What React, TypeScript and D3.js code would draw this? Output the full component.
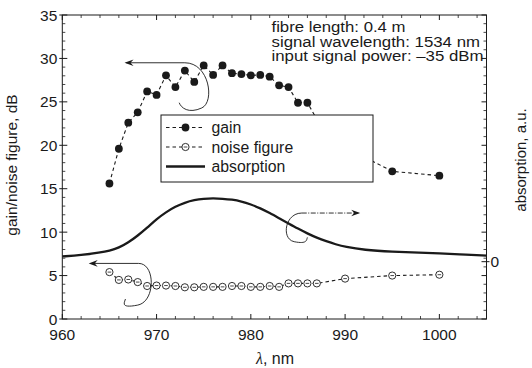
import React from "react";
import * as d3 from "d3";

const W = 532;
const H = 368;

const gainNm = [965, 966, 967, 968, 969, 970, 971, 972, 973, 974, 975, 976, 977, 978, 979, 980, 981, 982, 983, 984, 985, 986, 987, 990, 995, 1000];
const gainDb = [15.6, 19.6, 22.6, 23.8, 26.2, 25.8, 28.05, 26.7, 28.6, 27.3, 29.2, 28.1, 29.2, 28.3, 28.2, 28.05, 28.1, 27.9, 26.9, 26.7, 24.9, 24.9, 23.0, 19.8, 17.0, 16.5];

const nfNm = [965, 966, 967, 968, 969, 970, 971, 972, 973, 974, 975, 976, 977, 978, 979, 980, 981, 982, 983, 984, 985, 986, 987, 990, 995, 1000];
const nfDb = [5.4, 4.5, 4.55, 4.25, 3.8, 3.85, 3.85, 3.8, 3.65, 3.65, 3.7, 3.7, 3.7, 3.8, 3.8, 3.7, 3.7, 3.8, 3.7, 4.1, 4.1, 4.1, 4.1, 4.65, 5.0, 5.1];

const absNm = [960, 962, 964, 965, 966, 967, 968, 969, 970, 971, 972, 973, 974, 975, 976, 977, 978, 979, 980, 981, 982, 983, 984, 985, 986, 987, 988, 989, 990, 992, 995, 998, 1000, 1002, 1005];
const absAu = [0.06, 0.075, 0.105, 0.125, 0.16, 0.22, 0.3, 0.39, 0.49, 0.57, 0.635, 0.68, 0.71, 0.725, 0.73, 0.725, 0.715, 0.695, 0.66, 0.615, 0.56, 0.5, 0.44, 0.38, 0.325, 0.275, 0.235, 0.2, 0.17, 0.135, 0.115, 0.105, 0.095, 0.085, 0.07];

const xTicks = [960, 970, 980, 990, 1000];
const yTicks = [0, 5, 10, 15, 20, 25, 30, 35];
const rightTicks = [0];

const infoLines = ["fibre length: 0.4 m", "signal wavelength: 1534 nm", "input signal power: \u201335 dBm"];
const infoWidths = [134, 208.5, 212];
const legendItems = ["gain", "noise figure", "absorption"];

const FONT = "'Liberation Sans', Arial, Helvetica, sans-serif";
const INK = "#1a1a1a";

export default function App() {
  const x = d3.scaleLinear().domain([960, 1005]).range([62.3, 486.5]);
  const y = d3.scaleLinear().domain([0, 35]).range([319, 15]);
  const y2 = d3.scaleLinear().domain([-0.66, 2.84]).range([319, 15]);

  const dashedLine = d3
    .line<[number, number]>()
    .x((d) => x(d[0]))
    .y((d) => y(d[1]));
  const absLine = d3
    .line<[number, number]>()
    .x((d) => x(d[0]))
    .y((d) => y2(d[1]))
    .curve(d3.curveBasis);

  const gainPts: [number, number][] = gainNm.map((n, i) => [n, gainDb[i]]);
  const nfPts: [number, number][] = nfNm.map((n, i) => [n, nfDb[i]]);
  const absPts: [number, number][] = absNm.map((n, i) => [n, absAu[i]]);

  const [x0, x1] = x.range();
  const [yb, yt] = y.range();

  const minorY = d3.range(0, 35.01, 1).filter((v) => v % 5 !== 0);
  const minorX = d3.range(962, 1005, 2).filter((v) => v % 10 !== 0);

  const P = (nm: number, db: number) => `${x(nm)},${y(db)}`;

  const gainLoop = `M${P(973.0, 29.5)} C${P(975.6, 29.5)} ${P(976.2, 25)} ${P(974.8, 24.3)} S${P(972.6, 24.3)} ${P(972.4, 24.9)}`;
  const absLoop = `M${P(985.4, 12.2)} C${P(983.6, 12.2)} ${P(983.2, 9.2)} ${P(984.6, 8.9)} S${P(985.9, 9.1)} ${P(986.0, 9.4)}`;
  const nfLoop = `M${P(968.1, 6.4)} C${P(969.9, 6.4)} ${P(969.9, 2.0)} ${P(968.0, 1.6)} S${P(966.6, 1.9)} ${P(966.7, 2.3)}`;

  const arrowHead = (xx: number, yy: number, dir: number) => {
    const l = 9;
    const w = 3.3;
    return `M${xx},${yy} L${xx - dir * l},${yy - w} L${xx - dir * (l - 3)},${yy} L${xx - dir * l},${yy + w} Z`;
  };

  return (
    <svg width={W} height={H} style={{ position: "absolute", left: 0, top: 0, background: "#fff" }} fontFamily={FONT}>
      <rect x={0} y={0} width={W} height={H} fill="#fff" />
      <rect x={x0} y={yt} width={x1 - x0} height={yb - yt} fill="none" stroke={INK} strokeWidth={1} />

      {yTicks.map((t) => (
        <g key={"yt" + t}>
          <line x1={x0 - 3} x2={x0 + 5} y1={y(t)} y2={y(t)} stroke={INK} strokeWidth={1} />
          <line x1={x1 - 5} x2={x1} y1={y(t)} y2={y(t)} stroke={INK} strokeWidth={1} />
          <text x={x0 - 5} y={y(t)} dy="0.36em" textAnchor="end" fontSize={15.5} fill={INK}>
            {t}
          </text>
        </g>
      ))}
      {minorY.map((t) => (
        <g key={"ym" + t}>
          <line x1={x0} x2={x0 + 3} y1={y(t)} y2={y(t)} stroke={INK} strokeWidth={0.8} />
          <line x1={x1 - 3} x2={x1} y1={y(t)} y2={y(t)} stroke={INK} strokeWidth={0.8} />
        </g>
      ))}
      {rightTicks.map((t) => (
        <g key={"r" + t}>
          <line x1={x1 - 5} x2={x1 + 3} y1={y2(t)} y2={y2(t)} stroke={INK} strokeWidth={1} />
          <text x={x1 + 4} y={y2(t)} dy="0.36em" fontSize={15.5} fill={INK}>
            {t}
          </text>
        </g>
      ))}

      {xTicks.map((t) => (
        <g key={"xt" + t}>
          <line x1={x(t)} x2={x(t)} y1={yb} y2={yb - 5} stroke={INK} strokeWidth={1} />
          <line x1={x(t)} x2={x(t)} y1={yt} y2={yt + 5} stroke={INK} strokeWidth={1} />
          <text x={x(t)} y={yb + 21} textAnchor="middle" fontSize={15.5} fill={INK}>
            {t}
          </text>
        </g>
      ))}
      {minorX.map((t) => (
        <g key={"xm" + t}>
          <line x1={x(t)} x2={x(t)} y1={yb} y2={yb - 3} stroke={INK} strokeWidth={0.8} />
          <line x1={x(t)} x2={x(t)} y1={yt} y2={yt + 3} stroke={INK} strokeWidth={0.8} />
        </g>
      ))}

      <text x={275} y={364} textAnchor="middle" fontSize={16} fill={INK}>
        <tspan fontStyle="italic" fontFamily="'Liberation Serif', serif">λ</tspan>, nm
      </text>
      <text transform={`translate(17,165) rotate(-90)`} textAnchor="middle" fontSize={15.5} fill={INK}>
        gain/noise figure, dB
      </text>
      <text transform={`translate(526,160) rotate(-90)`} textAnchor="middle" fontSize={15} fill={INK}>
        absorption, a.u.
      </text>

      <path d={absLine(absPts) || ""} fill="none" stroke={INK} strokeWidth={2.3} />

      <path d={dashedLine(gainPts) || ""} fill="none" stroke={INK} strokeWidth={1.1} strokeDasharray="3.5,3" />
      {gainPts.map((d, i) => (
        <circle key={"g" + i} cx={x(d[0])} cy={y(d[1])} r={3.9} fill={INK} />
      ))}

      <path d={dashedLine(nfPts) || ""} fill="none" stroke={INK} strokeWidth={1.1} strokeDasharray="3.5,3" />
      {nfPts.map((d, i) => (
        <g key={"n" + i}>
          <circle cx={x(d[0])} cy={y(d[1])} r={3.6} fill="#fff" stroke={INK} strokeWidth={0.9} />
          <line x1={x(d[0]) - 1.8} x2={x(d[0]) + 1.8} y1={y(d[1])} y2={y(d[1])} stroke={INK} strokeWidth={0.8} />
        </g>
      ))}

      <line x1={x(966.8)} x2={x(973.0)} y1={y(29.5)} y2={y(29.5)} stroke={INK} strokeWidth={0.9} />
      <path d={arrowHead(x(966.6), y(29.5), -1)} fill={INK} />
      <path d={gainLoop} fill="none" stroke={INK} strokeWidth={0.9} />

      <line x1={x(985.4)} x2={x(991.4)} y1={y(12.2)} y2={y(12.2)} stroke={INK} strokeWidth={0.9} strokeDasharray="5,1.5,1,1.5" />
      <path d={arrowHead(x(991.6), y(12.2), 1)} fill={INK} />
      <path d={absLoop} fill="none" stroke={INK} strokeWidth={0.9} />

      <line x1={x(963.0)} x2={x(968.1)} y1={y(6.4)} y2={y(6.4)} stroke={INK} strokeWidth={0.9} />
      <path d={arrowHead(x(962.8), y(6.4), -1)} fill={INK} />
      <path d={nfLoop} fill="none" stroke={INK} strokeWidth={0.9} />

      {infoLines.map((t, i) => (
        <text
          key={"info" + i}
          x={271.5}
          y={32 + i * 14.6}
          fontSize={14}
          textLength={infoWidths[i]}
          lengthAdjust="spacingAndGlyphs"
          fill={INK}
        >
          {t}
        </text>
      ))}

      <g>
        <rect x={161} y={115} width={212} height={67} fill="#fff" stroke={INK} strokeWidth={1} />
        {legendItems.map((t, i) => {
          const cy = 127.5 + i * 19.5;
          return (
            <g key={"lg" + i}>
              {i < 2 ? (
                <line x1={166} x2={205} y1={cy} y2={cy} stroke={INK} strokeWidth={1.1} strokeDasharray="3.5,3" />
              ) : (
                <line x1={166} x2={205} y1={cy} y2={cy} stroke={INK} strokeWidth={2.3} />
              )}
              {i === 0 && <circle cx={185.5} cy={cy} r={3.9} fill={INK} />}
              {i === 1 && (
                <g>
                  <circle cx={185.5} cy={cy} r={3.6} fill="#fff" stroke={INK} strokeWidth={0.9} />
                  <line x1={183.7} x2={187.3} y1={cy} y2={cy} stroke={INK} strokeWidth={0.8} />
                </g>
              )}
              <text x={211.5} y={cy} dy="0.36em" fontSize={15.8} fill={INK}>
                {t}
              </text>
            </g>
          );
        })}
      </g>
    </svg>
  );
}
